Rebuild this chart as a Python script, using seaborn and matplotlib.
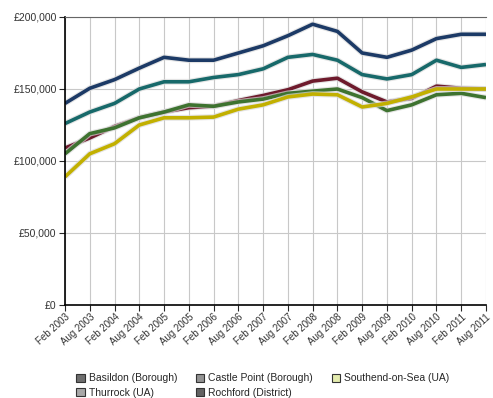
import matplotlib
matplotlib.use("Agg")
import matplotlib.pyplot as plt
import matplotlib.patheffects as pe
from matplotlib.patches import Patch
from matplotlib.ticker import FuncFormatter
import seaborn as sns
import pandas as pd

periods = ["Feb 2003", "Aug 2003", "Feb 2004", "Aug 2004", "Feb 2005", "Aug 2005",
           "Feb 2006", "Aug 2006", "Feb 2007", "Aug 2007", "Feb 2008", "Aug 2008",
           "Feb 2009", "Aug 2009", "Feb 2010", "Aug 2010", "Feb 2011", "Aug 2011"]

rochford = [140000, 150500, 156500, 164500, 172000, 170000, 170000, 175000, 180000, 187000,
            195000, 190000, 175000, 172000, 177000, 185000, 188000, 188000]
castle_point = [126000, 134000, 140000, 150000, 155000, 155000, 158000, 160000, 164000, 172000,
                174000, 170000, 160000, 157000, 160000, 170000, 165000, 167000]
basildon = [109000, 116000, 124000, 130000, 134000, 137000, 138000, 142000, 145500, 149500,
            155500, 157500, 148000, 141000, 143500, 152000, 150500, 150000]
thurrock = [105000, 119000, 123000, 130000, 134000, 139000, 138000, 141000, 143000, 147000,
            148500, 150000, 144000, 135000, 139000, 146000, 147000, 144000]
southend = [89000, 105000, 112000, 125000, 130000, 130000, 130500, 136000, 139000, 144500,
            146500, 146000, 137500, 140000, 144500, 150000, 150000, 150000]

series_names = ["Rochford (District)", "Castle Point (Borough)", "Basildon (Borough)",
                "Thurrock (UA)", "Southend-on-Sea (UA)"]
series_values = [rochford, castle_point, basildon, thurrock, southend]
line_colors = ["#1c3a66", "#17696a", "#6e1a2c", "#3e7330", "#c2b000"]

legend_order = ["Basildon (Borough)", "Thurrock (UA)", "Castle Point (Borough)",
                "Rochford (District)", "Southend-on-Sea (UA)"]
legend_colors = {"Basildon (Borough)": "#6e6e6e", "Thurrock (UA)": "#a8a8a8",
                 "Castle Point (Borough)": "#939393", "Rochford (District)": "#626262",
                 "Southend-on-Sea (UA)": "#e4ecae"}

rows = []
for name, vals in zip(series_names, series_values):
    for i, v in enumerate(vals):
        rows.append({"idx": i, "value": v, "series": name})
df = pd.DataFrame(rows)

sns.set_style("white")
plt.rcParams['font.family'] = ['Liberation Sans', 'DejaVu Sans']

fig = plt.figure(figsize=(4.93, 3.98), dpi=100)
ax = fig.add_axes([65 / 493, 1 - 305 / 398, (486 - 65) / 493, (305 - 17) / 398])

sns.lineplot(data=df, x="idx", y="value", hue="series", hue_order=series_names,
             palette=line_colors, linewidth=2.6, ax=ax, legend=False)
for ln in ax.lines:
    ln.set_path_effects([pe.Stroke(linewidth=4.2, foreground="#d9d9d9", alpha=0.7), pe.Normal()])
    ln.set_solid_joinstyle("round")
    ln.set_solid_capstyle("butt")

ax.set_xlim(0, len(periods) - 1)
ax.set_ylim(0, 200000)
ax.set_xticks(range(len(periods)))
ax.set_xticklabels(periods, rotation=42, ha="right", rotation_mode="anchor", fontsize=7, color="#333333")
ax.set_yticks([0, 50000, 100000, 150000, 200000])
ax.yaxis.set_major_formatter(FuncFormatter(lambda v, p: "£{:,.0f}".format(v)))
ax.tick_params(axis="y", labelsize=7.5, labelcolor="#333333", length=4, width=0.8, direction="out", left=True, pad=2)
ax.tick_params(axis="x", length=4, width=0.8, direction="out", bottom=True, pad=1)
ax.set_xlabel("")
ax.set_ylabel("")

ax.grid(True, color="#c8c8c8", linewidth=0.8)
ax.set_axisbelow(True)
for s in ["left", "bottom"]:
    ax.spines[s].set_color("black")
    ax.spines[s].set_linewidth(1.2)
ax.spines["top"].set_color("#666666")
ax.spines["top"].set_linewidth(0.8)
ax.spines["right"].set_visible(False)

handles = [Patch(facecolor=legend_colors[n], edgecolor="#333333", linewidth=0.8) for n in legend_order]
fig.legend(handles, legend_order, ncol=3, loc="upper left", bbox_to_anchor=(72 / 493, 1 - 369 / 398),
           frameon=False, fontsize=7.5, handlelength=0.8, handleheight=0.8, handletextpad=0.4,
           columnspacing=1.8, labelspacing=0.45, borderaxespad=0)

fig.savefig("out.png", dpi=100)
